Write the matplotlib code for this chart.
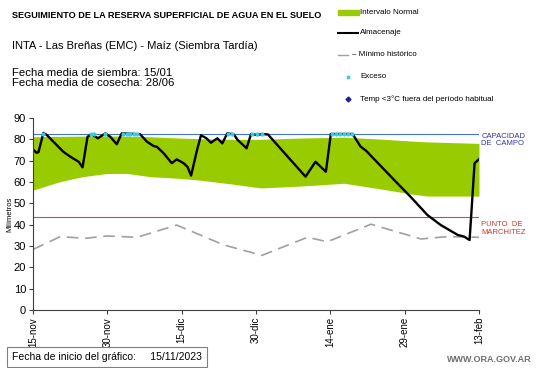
import matplotlib
matplotlib.use("Agg")
import matplotlib.pyplot as plt
from matplotlib.lines import Line2D
import matplotlib.patches as mpatches

plt.rcParams['font.family'] = ['Liberation Sans', 'DejaVu Sans']

W, H, DPI = 5.41, 3.68, 100

# dias desde 15-nov-2023
tick_days = [0, 15, 30, 45, 60, 75, 90]
tick_labels = ["15-nov", "30-nov", "15-dic", "30-dic", "14-ene", "29-ene", "13-feb"]

# intervalo normal
band_days = [0, 5.5, 10, 15, 19, 23.7, 29.6, 33.6, 40.3, 46, 54, 62.8, 69.5, 76.3, 79.6, 90]
band_low = [56.2, 60.2, 62.5, 64, 64, 62.5, 61.7, 60.9, 59, 57.2, 58.1, 59.4, 57, 54.4, 53.4, 53.4]
band_up = [81.2, 81.4, 81.5, 81.6, 81.5, 81.2, 80.6, 80.3, 80.0, 80.0, 80.6, 81.0, 80.2, 79.2, 78.8, 78.1]

# almacenaje
alm_days = [0, 0.7, 1.1, 2.1, 2.8, 6.1, 7.5, 9.2, 10, 11, 11.8, 13.1, 14.6, 15.6, 16.9, 17.9,
            21.6, 23, 24.3, 25, 26.4, 28, 29, 30.4, 31.2, 31.9, 33.1, 33.9, 35, 35.9, 37.2,
            38.2, 39.2, 40.5, 41.3, 43.1, 44, 45.3, 46.2, 47.4, 55, 57, 59.1, 60.1, 64.5,
            66.1, 67.2, 72.9, 76.3, 79.6, 82.3, 85.7, 87, 88.1, 88.5, 89.1, 90.2]
alm_vals = [75.3, 73.7, 74, 83, 82, 74.2, 71.9, 69.5, 66.9, 81.2, 82.4, 80.5, 82.8, 81.2, 77.7, 82.8,
            82.4, 78.9, 76.9, 76.5, 73.4, 68.8, 70.6, 68.8, 67, 63, 75, 81.9, 80.5, 78.4, 80.5,
            78.1, 82.8, 82.4, 79.7, 75.8, 82.5, 82, 82.5, 82.3, 62.5, 69.5, 64.8, 82.5, 82.5,
            76.6, 74.7, 60.9, 52.8, 44.5, 39.8, 35.2, 34.4, 32.8, 46.9, 68.8, 71.1]

# minimo historico
min_days = [0, 5.5, 10.5, 14.9, 21, 29, 38.5, 46.2, 55.4, 59.4, 68.2, 78.3, 83.7, 90]
min_vals = [28.4, 34.4, 33.6, 34.7, 34.1, 39.8, 30.5, 25.6, 34.1, 32, 40.2, 33.3, 34.4, 34.1]

# exceso
exc_days = [2.1, 11.8, 12.3, 14.6, 18.2, 18.9, 19.6, 20.3, 21.0, 39.4, 40.2, 44.1, 45.3, 46.2,
            60.4, 61.2, 62.0, 62.8, 63.6, 64.3]
exc_vals = [82.5] * len(exc_days)

CAPACIDAD = 82.4
MARCHITEZ = 43.7

fig = plt.figure(figsize=(W, H), dpi=DPI)
ax = fig.add_axes([33/541, 1-310/368, (479-33)/541, (310-118)/368])

ax.fill_between(band_days, band_low, band_up, color="#99CC00", lw=0)
ax.axhline(CAPACIDAD, color="#4472C4", lw=0.8)
ax.axhline(MARCHITEZ, color="#C0504D", lw=0.8)
ax.plot(min_days, min_vals, color="#A0A0A0", lw=1.2, dashes=(7, 4))
ax.plot(alm_days, alm_vals, color="black", lw=1.7)
ax.plot(exc_days, exc_vals, ls="none", marker="o", ms=2.0, color="#33CCEE")

ax.set_xlim(0, 90)
ax.set_ylim(0, 90)
ax.set_yticks(range(0, 91, 10))
ax.set_xticks(tick_days)
ax.set_xticklabels(tick_labels, rotation=90, fontsize=7)
ax.tick_params(axis="y", labelsize=8, length=3, color="#404040", pad=2)
ax.tick_params(axis="x", length=3, color="#404040", pad=2)
for s in ["top", "right"]:
    ax.spines[s].set_visible(False)
for s in ["left", "bottom"]:
    ax.spines[s].set_color("#404040")
ax.set_ylabel("Milímetros", fontsize=5.5, labelpad=0)

ax.text(1.005, (CAPACIDAD - 6) / 90, "CAPACIDAD\nDE  CAMPO", transform=ax.transAxes,
        fontsize=5.5, color="#3333AA", va="bottom", linespacing=1.1)
ax.text(1.005, (MARCHITEZ - 2) / 90, "PUNTO  DE\nMARCHITEZ", transform=ax.transAxes,
        fontsize=5.5, color="#CC3333", va="top", linespacing=1.1)

def fx(px): return px / 541
def fy(py): return 1 - py / 368

fig.text(fx(12), fy(15), "SEGUIMIENTO DE LA RESERVA SUPERFICIAL DE AGUA EN EL SUELO",
         fontsize=6.6, fontweight="bold", va="center")
fig.text(fx(12), fy(46), "INTA - Las Breñas (EMC) - Maíz (Siembra Tardía)", fontsize=8.0, va="center")
fig.text(fx(12), fy(73), "Fecha media de siembra: 15/01", fontsize=8.2, va="center")
fig.text(fx(12), fy(83.5), "Fecha media de cosecha: 28/06", fontsize=8.2, va="center")

# leyenda
fig.patches.append(mpatches.Rectangle((fx(338), fy(15)), fx(21), 5/368, color="#99CC00",
                                      transform=fig.transFigure, figure=fig))
fig.lines.append(Line2D([fx(338), fx(358)], [fy(33), fy(33)], color="black", lw=1.5,
                        transform=fig.transFigure))
fig.lines.append(Line2D([fx(338), fx(348)], [fy(55), fy(55)], color="#A0A0A0", lw=1.0,
                        transform=fig.transFigure))
fig.lines.append(Line2D([fx(348)], [fy(77)], ls="none", marker="o", ms=1.8, color="#33CCEE",
                        transform=fig.transFigure))
fig.lines.append(Line2D([fx(348)], [fy(99)], ls="none", marker="D", ms=2.5, color="#1F1F99",
                        transform=fig.transFigure))
fig.text(fx(360), fy(12), "Intervalo Normal", fontsize=5.8, va="center")
fig.text(fx(360), fy(33), "Almacenaje", fontsize=5.8, va="center")
fig.text(fx(352), fy(55), "– Mínimo histórico", fontsize=5.8, va="center")
fig.text(fx(360), fy(77), "Exceso", fontsize=5.8, va="center")
fig.text(fx(360), fy(99), "Temp <3°C fuera del período habitual", fontsize=5.8, va="center")

fig.text(fx(12), fy(357), "Fecha de inicio del gráfico:     15/11/2023", fontsize=7.5, va="center",
         bbox=dict(boxstyle="square,pad=0.45", facecolor="white", edgecolor="#8C7B75", lw=0.8))
fig.text(fx(532), fy(359), "WWW.ORA.GOV.AR", fontsize=6.5, color="#707070", fontweight="bold",
         ha="right", va="center")

fig.savefig("out.png", dpi=DPI)
